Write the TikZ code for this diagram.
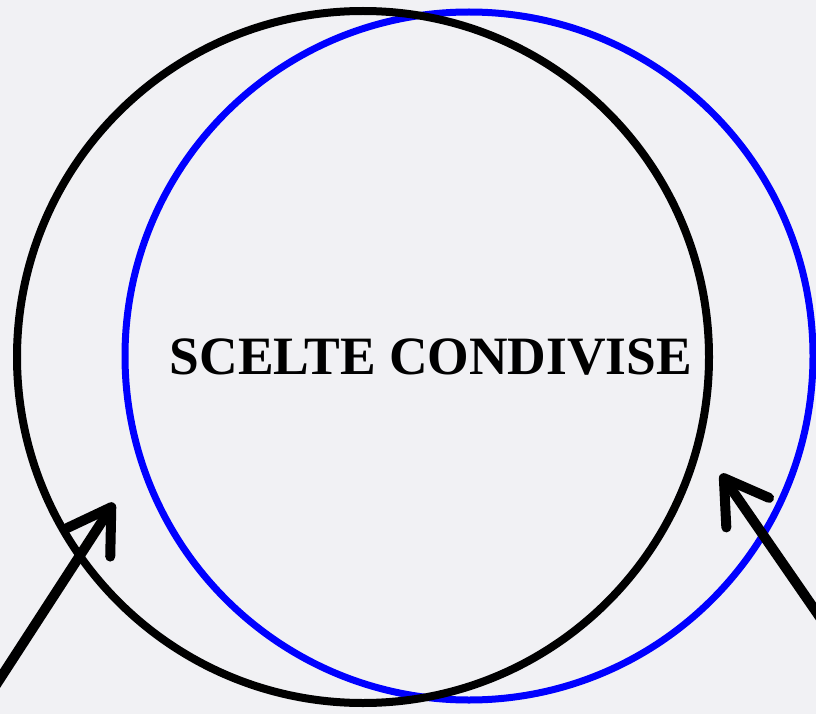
\documentclass[tikz,border=0pt]{standalone}
\usepackage{fontspec}
\setmainfont{Liberation Serif}
\usetikzlibrary{arrows.meta}
\definecolor{paper}{RGB}{241,241,244}
\definecolor{ringblue}{RGB}{0,0,255}

\begin{document}
\begin{tikzpicture}[x=1pt,y=-1pt,>={Straight Barb[round,length=42pt,width=52pt]},
  ring/.style={draw,circle,minimum size=#1,inner sep=0pt},
  pointer/.style={->,line width=10pt,line cap=round}]
\fill[paper] (0,0) rectangle (816,714);
\useasboundingbox (0,0) rectangle (816,714);
% the two sets
\node[ring=688pt,draw=ringblue,line width=7pt] (blueset) at (469,356) {};
\node[ring=692pt,draw=black,line width=8pt] (blackset) at (363,357) {};
\node[font=\fontsize{54}{60}\selectfont\bfseries,xscale=0.99] (shared) at (431,357) {SCELTE CONDIVISE};
% arrows coming from outside
\coordinate (lefttail) at (-6,688);
\coordinate (lefttip) at (114,503);
\coordinate (righttail) at (826,626);
\coordinate (righttip) at (721,474);
\draw[pointer] (lefttail) -- (lefttip);
\draw[pointer] (righttail) -- (righttip);
\end{tikzpicture}
\end{document}
